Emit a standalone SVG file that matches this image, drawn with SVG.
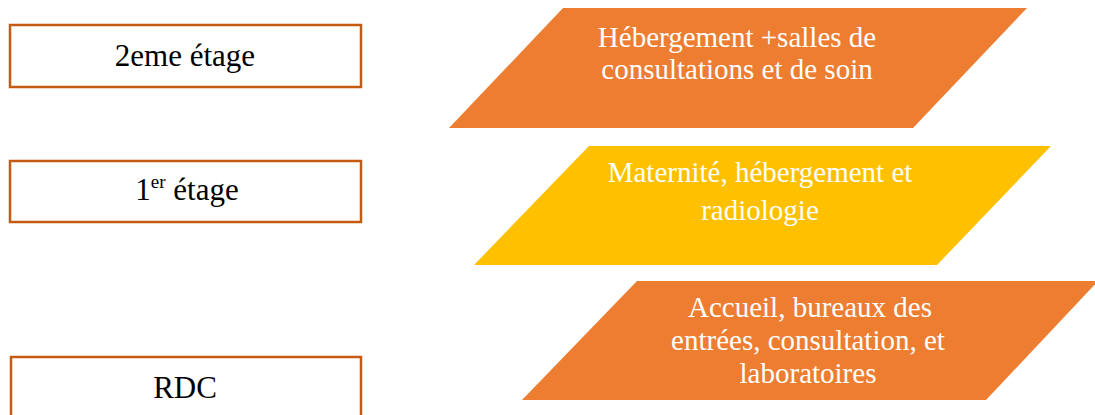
<svg xmlns="http://www.w3.org/2000/svg" width="1095" height="415" viewBox="0 0 1095 415">
<style>
.box{fill:#ffffff;stroke:#C55A11;stroke-width:2.5}
.lbl{font-family:"Liberation Serif","Times New Roman",serif;font-size:31px;fill:#000000;text-anchor:middle}
.pt{font-family:"Liberation Serif","Times New Roman",serif;font-size:29px;fill:#ffffff;text-anchor:middle}
.orange{fill:#ED7D31}
.yellow{fill:#FFC000}
</style>
<rect width="1095" height="415" fill="#ffffff"/>
<g id="floor2">
<rect class="box" x="10" y="25" width="351" height="62"/>
<text class="lbl" x="185" y="66">2eme étage</text>
</g>
<g id="floor1">
<rect class="box" x="10" y="161" width="351" height="61"/>
<text class="lbl" x="187" y="200">1<tspan font-size="19" dy="-12">er</tspan><tspan dy="12"> étage</tspan></text>
</g>
<g id="rdc">
<rect class="box" x="11" y="357" width="350" height="70"/>
<text class="lbl" x="185" y="398">RDC</text>
</g>
<g id="p2">
<polygon class="orange" points="563,8 1027,8 913,128 449,128"/>
<text class="pt" x="737" y="47">Hébergement +salles de</text>
<text class="pt" x="737" y="79">consultations et de soin</text>
</g>
<g id="p1">
<polygon class="yellow" points="589,146 1051,146 937,265 474,265"/>
<text class="pt" x="760" y="182">Maternité, hébergement et</text>
<text class="pt" x="760" y="220">radiologie</text>
</g>
<g id="p0">
<polygon class="orange" points="637,281 1098,281 986,400 522,400"/>
<text class="pt" x="810" y="317">Accueil, bureaux des</text>
<text class="pt" x="808" y="350">entrées, consultation, et</text>
<text class="pt" x="808" y="383">laboratoires</text>
</g>
<g id="connectors"></g>
</svg>
